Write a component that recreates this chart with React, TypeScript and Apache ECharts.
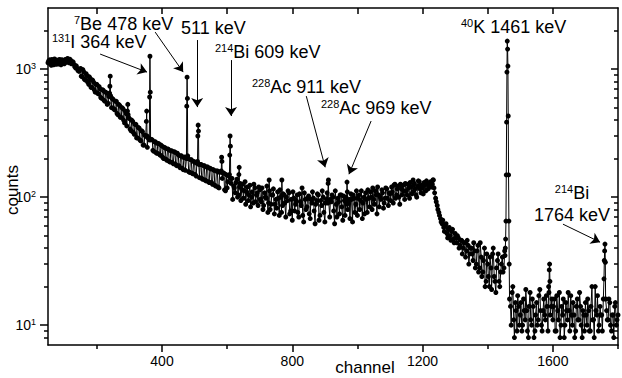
import React, { useEffect, useRef } from "react";
import * as echarts from "echarts";

// ---------- data ----------
const channelStep = 5;
// counts for channels 50, 55, 60, ... 1800
const baseStart = 50;
const baseCounts = [
  1120, 1180, 1070, 1150, 1200, 1090, 1160, 1190, 1080, 1170,
  1100, 1190, 1210, 1120, 1170, 1110, 1090, 1020, 1010, 960,
  1010, 870, 950, 820, 890, 760, 840, 720, 790, 660,
  760, 640, 700, 590, 680, 560, 650, 540, 620, 500,
  580, 480, 560, 440, 520, 420, 490, 380, 450, 360,
  410, 330, 390, 310, 370, 290, 345, 275, 325, 255,
  300, 245, 290, 235, 280, 228, 270, 220, 262, 212,
  250, 200, 242, 194, 236, 188, 230, 182, 224, 176,
  214, 170, 210, 164, 206, 160, 200, 156, 196, 152,
  188, 146, 184, 142, 180, 138, 176, 134, 172, 130,
  166, 126, 162, 122, 160, 118, 158, 116, 154, 112,
  118, 146, 112, 140, 122, 108, 138, 104, 128, 115,
  98, 132, 110, 94, 124, 100, 90, 118, 104, 86,
  114, 92, 80, 108, 98, 76, 112, 88, 104, 74,
  96, 110, 72, 100, 86, 104, 70, 94, 108, 78,
  66, 98, 88, 104, 70, 92, 100, 64, 96, 84,
  102, 68, 90, 98, 62, 94, 104, 72, 86, 100,
  64, 96, 98, 70, 92, 100, 62, 88, 98, 74,
  104, 66, 94, 100, 70, 96, 106, 64, 98, 88,
  72, 104, 94, 68, 100, 108, 76, 98, 110, 80,
  96, 112, 74, 104, 100, 114, 82, 98, 116, 86,
  106, 120, 90, 112, 104, 122, 88, 116, 124, 96,
  112, 126, 98, 120, 110, 128, 104, 122, 132, 108,
  118, 130, 112, 128, 122, 132, 126, 118, 98, 86,
  76, 68, 62, 58, 60, 52, 56, 50, 54, 47,
  52, 44, 48, 42, 46, 40, 44, 38, 42, 36,
  40, 32, 38, 30, 42, 28, 34, 26, 40, 22,
  30, 20, 28, 36, 24, 18, 32, 22, 26, 34,
  28, 47, 34, 65, 14, 18, 11, 15, 9, 14,
  12, 9, 16, 11, 13, 8, 18, 10, 14, 9,
  15, 11, 19, 10, 13, 12, 17, 9, 22, 14,
  11, 16, 9, 13, 18, 10, 12, 8, 15, 11,
  13, 17, 10, 12, 9, 16, 11, 14, 8, 12,
  15, 10, 13, 9, 17, 11, 20, 12, 9, 14,
  12, 16, 10, 13, 11, 15, 9, 12, 14, 10,
  12,
];
// counts for channels 52, 57, 62, ... 1797
const offsetStart = 52;
const offsetCounts = [
  1160, 1100, 1190, 1080, 1130, 1175, 1095, 1140, 1185, 1110,
  1185, 1130, 1150, 1195, 1100, 1140, 1045, 1060, 975, 990,
  880, 990, 830, 920, 790, 870, 720, 820, 690, 760,
  650, 730, 600, 690, 570, 660, 530, 610, 520, 590,
  490, 560, 450, 530, 420, 500, 400, 470, 360, 420,
  340, 400, 320, 370, 290, 350, 280, 330, 255, 305,
  260, 290, 240, 282, 232, 270, 222, 262, 216, 255,
  205, 245, 198, 238, 190, 230, 186, 226, 180, 220,
  176, 210, 168, 204, 162, 200, 158, 196, 154, 190,
  150, 184, 144, 180, 140, 176, 136, 172, 132, 168,
  130, 164, 124, 160, 120, 156, 118, 154, 114, 150,
  132, 108, 128, 96, 118, 130, 100, 122, 94, 126,
  112, 88, 120, 104, 84, 110, 126, 92, 108, 120,
  96, 118, 86, 100, 122, 90, 80, 104, 116, 88,
  82, 98, 114, 76, 106, 90, 100, 112, 74, 96,
  110, 78, 94, 76, 106, 86, 72, 108, 80, 98,
  74, 96, 110, 78, 88, 106, 66, 94, 112, 76,
  90, 108, 72, 96, 104, 78, 112, 70, 92, 104,
  84, 102, 72, 110, 90, 68, 96, 104, 76, 112,
  98, 80, 112, 90, 74, 96, 114, 84, 100, 118,
  88, 104, 120, 84, 96, 108, 90, 118, 98, 108,
  94, 110, 124, 98, 116, 100, 126, 104, 112, 128,
  104, 118, 130, 106, 124, 116, 100, 134, 116, 124,
  106, 124, 134, 116, 128, 120, 136, 108, 92, 80,
  72, 64, 66, 54, 62, 48, 58, 46, 56, 44,
  48, 50, 40, 46, 36, 44, 34, 46, 30, 40,
  36, 44, 28, 38, 26, 44, 24, 32, 20, 36,
  24, 34, 19, 40, 22, 28, 36, 20, 30, 26,
  38, 149, 1055, 16, 10, 20, 8, 13, 17, 10,
  15, 10, 13, 19, 9, 14, 11, 16, 8, 12,
  10, 17, 13, 9, 16, 11, 14, 20, 10, 16,
  14, 9, 17, 11, 8, 14, 16, 10, 13, 18,
  9, 12, 15, 8, 14, 11, 18, 10, 13, 9,
  12, 16, 9, 14, 11, 8, 13, 17, 10, 12,
  9, 14, 18, 11, 16, 10, 12, 8, 15, 11,
];

// individual channels around the photopeaks
const peakChannels = [
  239, 240, 241, 242,
  294, 295, 296,
  351, 352, 353, 354,
  361, 362, 363, 364, 365,
  475, 476, 477, 478, 479,
  509, 510, 511, 512, 513,
  582, 583, 584, 585,
  607, 608, 609, 610, 611,
  636, 637, 638,
  729, 768, 830,
  909, 910, 911, 912,
  967, 968, 969, 970,
  1115, 1171, 1233,
  1453, 1454, 1455, 1456, 1457, 1458, 1459, 1460, 1461, 1462, 1463, 1464, 1465, 1466, 1467,
  1588, 1589, 1590, 1591, 1592,
  1720,
  1757, 1758, 1759, 1760, 1761, 1762,
];
const peakCounts = [
  650, 735, 880, 620,
  470, 530, 440,
  300, 390, 470, 300,
  280, 605, 1260, 660, 280,
  200, 513, 865, 590, 210,
  190, 300, 365, 328, 180,
  160, 205, 190, 140,
  150, 213, 300, 250, 140,
  150, 171, 120,
  136, 136, 118,
  90, 128, 136, 92,
  88, 131, 110, 80,
  126, 136, 136,
  35, 40, 47, 65, 149, 385, 948, 1654, 1433, 1055, 430, 149, 65, 30, 16,
  18, 27, 30, 22, 12,
  20,
  23, 32, 38, 43, 31, 16,
];

const xLabelTicks = [400, 800, 1200, 1600];
const xMinorTicks = [200, 600, 1000, 1400, 1800];
const xTopTicks = [200, 400, 600, 800, 1000, 1200, 1400, 1600];
const yMajorTicks = [10, 100, 1000];
const yMinorTicks = [8, 9, 20, 30, 40, 50, 60, 70, 80, 90, 200, 300, 400, 500, 600, 700, 800, 900, 2000];

// arrows: [channel, counts] of start and of arrow head
const arrowStarts = [
  [210, 1310], [379, 1945], [508, 1686], [612, 1176], [843, 615], [1042, 393], [1631, 61.5],
];
const arrowEnds = [
  [354, 947], [465, 947], [508, 505], [612, 430], [901, 171], [974, 151], [1745, 44.5],
];

const FONT = "'Liberation Sans', Arial, Helvetica, sans-serif";

export default function App() {
  const ref = useRef<HTMLDivElement>(null);

  useEffect(() => {
    if (!ref.current) return;
    const chart = echarts.init(ref.current, null, { renderer: "svg" });

    const counts = new Map<number, number>();
    baseCounts.forEach((c, i) => counts.set(baseStart + i * channelStep, c));
    offsetCounts.forEach((c, i) => counts.set(offsetStart + i * channelStep, c));
    peakChannels.forEach((ch, i) => counts.set(ch, peakCounts[i]));
    const seriesData = Array.from(counts.entries()).sort((a, b) => a[0] - b[0]);

    const arrowData = arrowStarts.map((s, i) => [
      { coord: s, symbol: "none" },
      { coord: arrowEnds[i], symbol: "arrow" },
    ]);

    const axisLine = { show: true, lineStyle: { color: "#000", width: 1.5 } };
    const tickLine = { color: "#000", width: 1.5 };
    const yMin = 7;
    const yMax = 3000;
    const xMin = 50;
    const xMax = 1800;

    const rich = {
      s: { fontSize: 11, fontFamily: FONT, fill: "#000", verticalAlign: "top", lineHeight: 12 },
      n: { fontSize: 18, fontFamily: FONT, fill: "#000", lineHeight: 20 },
    };
    const label = (text: string, x: number, y: number, align = "left") => ({
      type: "text",
      x,
      y,
      silent: true,
      style: { text, rich, align, verticalAlign: "middle", fill: "#000" },
    });

    chart.setOption({
      animation: false,
      backgroundColor: "#fff",
      grid: { left: 48, right: 4, top: 8, bottom: 33, containLabel: false },
      xAxis: [
        {
          type: "value", position: "bottom", min: xMin, max: xMax,
          axisLine,
          axisTick: { show: true, inside: false, length: 7, customValues: xLabelTicks, lineStyle: tickLine },
          axisLabel: {
            show: true, customValues: xLabelTicks, color: "#000", fontSize: 14, fontFamily: FONT, margin: 9,
            formatter: (v: number) => String(v),
          },
          splitLine: { show: false },
        },
        {
          type: "value", position: "bottom", min: xMin, max: xMax,
          axisLine: { show: false },
          axisTick: { show: true, inside: false, length: 4, customValues: xMinorTicks, lineStyle: tickLine },
          axisLabel: { show: false },
          splitLine: { show: false },
        },
        {
          type: "value", position: "top", min: xMin, max: xMax,
          axisLine,
          axisTick: { show: true, inside: true, length: 6, customValues: xTopTicks, lineStyle: tickLine },
          axisLabel: { show: false },
          splitLine: { show: false },
        },
      ],
      yAxis: [
        {
          type: "log", logBase: 10, position: "left", min: yMin, max: yMax,
          axisLine,
          axisTick: { show: true, inside: false, length: 8, customValues: yMajorTicks, lineStyle: tickLine },
          axisLabel: {
            show: true, customValues: yMajorTicks, margin: 12,
            formatter: (v: number) => `{b|10}{e|${Math.round(Math.log10(v))}}`,
            rich: {
              b: { fontSize: 14, fontFamily: FONT, color: "#000", lineHeight: 16 },
              e: { fontSize: 9, fontFamily: FONT, color: "#000", verticalAlign: "top", lineHeight: 10 },
            },
          },
          splitLine: { show: false },
        },
        {
          type: "log", logBase: 10, position: "left", min: yMin, max: yMax,
          axisLine: { show: false },
          axisTick: { show: true, inside: false, length: 4, customValues: yMinorTicks, lineStyle: tickLine },
          axisLabel: { show: false },
          splitLine: { show: false },
        },
        {
          type: "log", logBase: 10, position: "right", min: yMin, max: yMax,
          axisLine,
          axisTick: { show: true, inside: true, length: 7, customValues: yMajorTicks, lineStyle: tickLine },
          axisLabel: { show: false },
          splitLine: { show: false },
        },
        {
          type: "log", logBase: 10, position: "right", min: yMin, max: yMax,
          axisLine: { show: false },
          axisTick: { show: true, inside: true, length: 4, customValues: yMinorTicks, lineStyle: tickLine },
          axisLabel: { show: false },
          splitLine: { show: false },
        },
      ],
      series: [
        {
          type: "line",
          xAxisIndex: 0,
          yAxisIndex: 0,
          data: seriesData,
          symbol: "circle",
          symbolSize: 5,
          showSymbol: true,
          showAllSymbol: true,
          clip: true,
          itemStyle: { color: "#000" },
          lineStyle: { color: "#000", width: 1 },
          emphasis: { disabled: true },
          markLine: {
            silent: true,
            symbolSize: 9,
            label: { show: false },
            lineStyle: { color: "#000", width: 1, type: "solid" },
            emphasis: { disabled: true },
            data: arrowData,
          },
        },
      ],
      graphic: [
        label("{s|131}{n|I 364 keV}", 52, 42),
        label("{s|7}{n|Be 478 keV}", 74, 24),
        label("{n|511 keV}", 181, 28),
        label("{s|214}{n|Bi 609 keV}", 215, 52),
        label("{s|228}{n|Ac 911 keV}", 252, 87),
        label("{s|228}{n|Ac 969 keV}", 321, 108),
        label("{s|40}{n|K 1461 keV}", 461, 27),
        label("{s|214}{n|Bi}", 572, 193, "center"),
        label("{n|1764 keV}", 572, 215, "center"),
        {
          type: "text", x: 12, y: 190, rotation: Math.PI / 2, silent: true,
          style: { text: "counts", font: `17px ${FONT}`, fill: "#000", align: "center", verticalAlign: "middle" },
        },
        {
          type: "text", x: 365, y: 367, silent: true,
          style: { text: "channel", font: `17px ${FONT}`, fill: "#000", align: "center", verticalAlign: "middle" },
        },
      ],
    });

    return () => chart.dispose();
  }, []);

  return (
    <div
      ref={ref}
      style={{ position: "fixed", left: 0, top: 0, width: 622, height: 378, background: "#fff" }}
    />
  );
}
